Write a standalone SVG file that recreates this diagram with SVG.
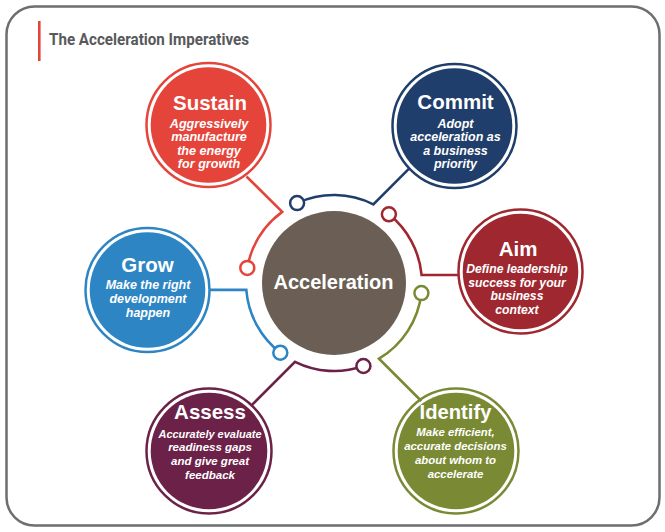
<svg xmlns="http://www.w3.org/2000/svg" width="665" height="532" viewBox="0 0 665 532">
<style>
.frame{fill:#fff;stroke:#6d6e71;stroke-width:2.5}
.ttl{font-family:"Liberation Sans Narrow",Roboto,"Liberation Sans",Arial,sans-serif;font-weight:bold;font-size:17px;fill:#58595b}
.h{font-family:"Liberation Sans",Arial,sans-serif;font-weight:bold;font-size:20.5px;fill:#fff;text-anchor:middle}
.s{font-family:"Liberation Sans",Arial,sans-serif;font-weight:bold;font-style:italic;font-size:12.5px;fill:#fff;text-anchor:middle}
.ring{fill:none;stroke-width:2.5}
.con{fill:none;stroke-width:2.6}
.dot{fill:#fff;stroke-width:2.5}
.red{stroke:#e5443a}.redf{fill:#e5443a}
.navy{stroke:#1f3e6b}.navyf{fill:#1f3e6b}
.mar{stroke:#9f272f}.marf{fill:#9f272f}
.blu{stroke:#2e85c3}.bluf{fill:#2e85c3}
.plm{stroke:#6c2248}.plmf{fill:#6c2248}
.olv{stroke:#7a8a34}.olvf{fill:#7a8a34}
</style>
<rect class="frame" x="6.5" y="6.5" width="653" height="519" rx="28" ry="28"/>
<rect x="38" y="21" width="2.6" height="40" fill="#e5443a"/>
<text class="ttl" x="49" y="44.5" textLength="200" lengthAdjust="spacingAndGlyphs">The Acceleration Imperatives</text>

<g id="connectors">
<path class="con red" d="M247.3 267.9 A88 88 0 0 1 282.2 211.9 L246.5 176.5"/>
<path class="con navy" d="M297.1 203.1 A88 88 0 0 1 373.3 204.3 L409.3 168.4"/>
<path class="con mar" d="M388.9 214.3 A88 88 0 0 1 421.6 275 L459 275"/>
<path class="con olv" d="M421.4 293.1 A88 88 0 0 1 379 358.7 L421.3 401"/>
<path class="con plm" d="M363.4 366 A88 88 0 0 1 295 361.9 L251 405.9"/>
<path class="con blu" d="M280.3 352.7 A88 88 0 0 1 246.3 289.9 L209 289.9"/>
<circle class="dot red" cx="247.3" cy="267.9" r="7"/>
<circle class="dot navy" cx="297.1" cy="203.1" r="7"/>
<circle class="dot mar" cx="388.9" cy="214.3" r="7"/>
<circle class="dot olv" cx="421.4" cy="293.1" r="7"/>
<circle class="dot plm" cx="363.4" cy="366" r="7"/>
<circle class="dot blu" cx="280.3" cy="352.7" r="7"/>
</g>

<g id="acceleration">
<circle cx="334" cy="283" r="72" fill="#6b5f55"/>
<text class="h" x="333.5" y="288.5" style="font-size:20px">Acceleration</text>
</g>

<g id="sustain">
<circle class="ring red" cx="208.5" cy="125" r="62"/>
<circle class="redf" cx="208.5" cy="125" r="57.8"/>
<text class="h" x="210" y="110">Sustain</text>
<g class="s" style="font-size:12.6px">
<text x="209" y="128">Aggressively</text>
<text x="209" y="141.3">manufacture</text>
<text x="209" y="154.7">the energy</text>
<text x="209" y="168">for growth</text>
</g>
</g>

<g id="commit">
<circle class="ring navy" cx="454.5" cy="126" r="62"/>
<circle class="navyf" cx="454.5" cy="126" r="57.8"/>
<text class="h" x="455.5" y="108.5">Commit</text>
<g class="s">
<text x="455.5" y="128">Adopt</text>
<text x="455.5" y="141.3">acceleration as</text>
<text x="455.5" y="154.7">a business</text>
<text x="455.5" y="168">priority</text>
</g>
</g>

<g id="aim">
<circle class="ring mar" cx="520.5" cy="271.5" r="62"/>
<circle class="marf" cx="520.5" cy="271.5" r="57.8"/>
<text class="h" x="518" y="256">Aim</text>
<g class="s" style="font-size:12.2px">
<text x="517" y="273">Define leadership</text>
<text x="517" y="286.7">success for your</text>
<text x="517" y="300.4">business</text>
<text x="517" y="314">context</text>
</g>
</g>

<g id="grow">
<circle class="ring blu" cx="147.5" cy="290" r="62"/>
<circle class="bluf" cx="147.5" cy="290" r="57.8"/>
<text class="h" x="147.5" y="271.7">Grow</text>
<g class="s">
<text x="148" y="288.5">Make the right</text>
<text x="148" y="302.5">development</text>
<text x="148" y="316.5">happen</text>
</g>
</g>

<g id="assess">
<circle class="ring plm" cx="209" cy="451" r="62.5"/>
<circle class="plmf" cx="209" cy="451" r="58.3"/>
<text class="h" x="210" y="419">Assess</text>
<g class="s" style="font-size:11.5px">
<text x="210" y="437.5" textLength="103" lengthAdjust="spacingAndGlyphs">Accurately evaluate</text>
<text x="210" y="451.3">readiness gaps</text>
<text x="210" y="465">and give great</text>
<text x="210" y="478.7">feedback</text>
</g>
</g>

<g id="identify">
<circle class="ring olv" cx="456" cy="451" r="62.5"/>
<circle class="olvf" cx="456" cy="451" r="58.3"/>
<text class="h" x="455.5" y="418.5" style="font-size:20.2px">Identify</text>
<g class="s" style="font-size:11.4px">
<text x="455.5" y="435.5">Make efficient,</text>
<text x="455.5" y="449.8">accurate decisions</text>
<text x="455.5" y="464">about whom to</text>
<text x="455.5" y="478.3">accelerate</text>
</g>
</g>
</svg>
